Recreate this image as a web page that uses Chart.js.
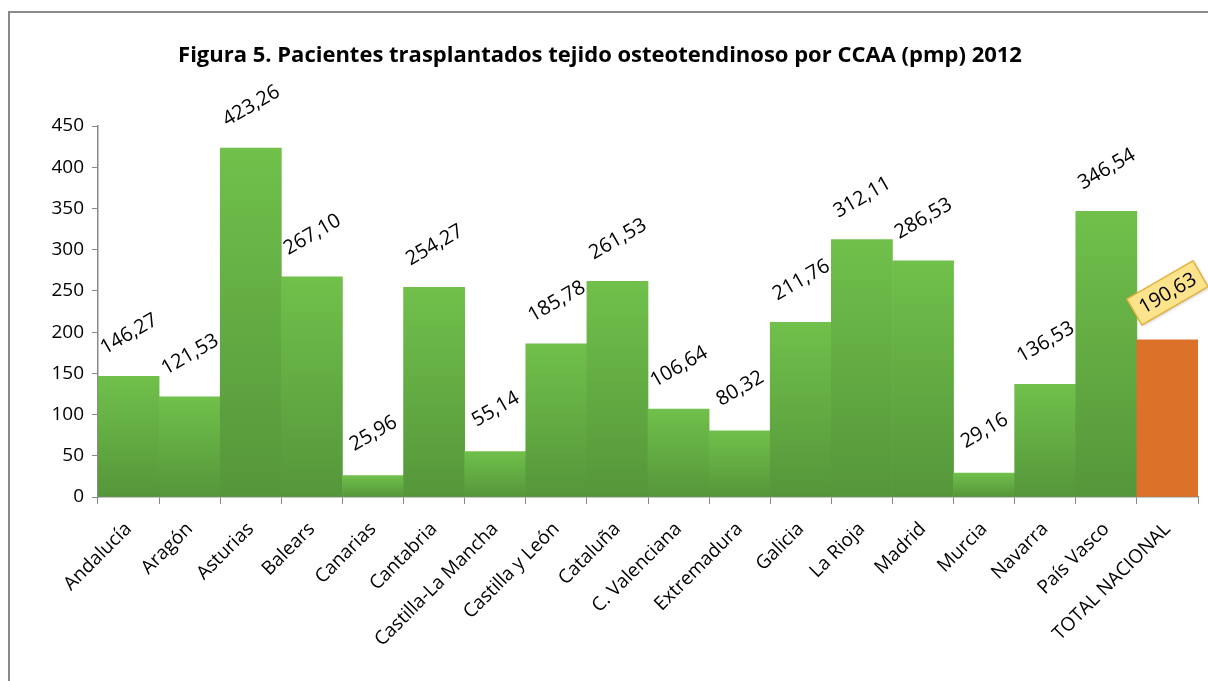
<!DOCTYPE html>
<html lang="es">
<head>
  <meta charset="UTF-8">
  <title>Figura 5</title>
  <script src="https://cdn.jsdelivr.net/npm/chart.js"></script>
  <style>
    body {
      margin: 0;
      padding: 0;
      background-color: #fff;
      overflow: hidden;
    }

    .frame {
      position: absolute;
      left: 8px;
      top: 11px;
      width: 1300px;
      height: 800px;
      border: 2px solid #8a8a8a;
      box-sizing: border-box;
    }

    .wrap {
      position: absolute;
      left: 0;
      top: 0;
      width: 1208px;
      height: 681px;
    }
  </style>
</head>
<body>

  <div class="frame"></div>
  <div class="wrap">
    <canvas id="grafico"></canvas>
  </div>

  <script>
    // Datos
    var categorias = ['Andalucía', 'Aragón', 'Asturias', 'Balears', 'Canarias', 'Cantabria',
      'Castilla-La Mancha', 'Castilla y León', 'Cataluña', 'C. Valenciana', 'Extremadura',
      'Galicia', 'La Rioja', 'Madrid', 'Murcia', 'Navarra', 'País Vasco', 'TOTAL NACIONAL'];
    var valores = [146.27, 121.53, 423.26, 267.10, 25.96, 254.27, 55.14, 185.78, 261.53,
      106.64, 80.32, 211.76, 312.11, 286.53, 29.16, 136.53, 346.54, 190.63];
    var ticksY = [0, 50, 100, 150, 200, 250, 300, 350, 400, 450];
    var titulo = 'Figura 5. Pacientes trasplantados tejido osteotendinoso por CCAA (pmp) 2012';

    var indiceTotal = categorias.length - 1;
    var fuente = '"Open Sans", sans-serif';

    function formatoES(v) {
      return v.toFixed(2).replace('.', ',');
    }

    // Degradado verde por barra (de arriba a abajo), naranja para el total
    function colorBarra(ctx) {
      if (ctx.dataIndex === indiceTotal) return '#dc7229';
      var y = ctx.chart.scales.y;
      if (!y || !ctx.chart.chartArea || ctx.raw === undefined) return '#64ae42';
      var arriba = y.getPixelForValue(ctx.raw);
      var base = y.getPixelForValue(0);
      if (!isFinite(arriba) || !isFinite(base) || arriba === base) return '#64ae42';
      var g = ctx.chart.ctx.createLinearGradient(0, arriba, 0, base);
      g.addColorStop(0, '#70c04b');
      g.addColorStop(1, '#55963a');
      return g;
    }

    // Titulo y etiquetas de datos giradas
    var etiquetas = {
      id: 'etiquetas',
      afterDatasetsDraw: function (chart) {
        var c = chart.ctx;
        var meta = chart.getDatasetMeta(0);
        c.save();
        c.fillStyle = '#000';
        c.font = 'bold 22px ' + fuente;
        c.textAlign = 'center';
        c.textBaseline = 'middle';
        c.fillText(titulo, 600, 56);

        c.font = '20px ' + fuente;
        meta.data.forEach(function (bar, i) {
          var txt = formatoES(valores[i]);
          c.save();
          c.translate(bar.x, bar.y - (i === indiceTotal ? 47 : 43));
          c.rotate(-Math.PI / 6);
          if (i === indiceTotal) {
            var w = c.measureText(txt).width + 14;
            var h = 30;
            c.shadowColor = 'rgba(0,0,0,0.25)';
            c.shadowBlur = 3;
            c.shadowOffsetX = 1;
            c.shadowOffsetY = 1;
            c.fillStyle = '#fde38b';
            c.fillRect(-w / 2, -h / 2, w, h);
            c.shadowColor = 'transparent';
            c.strokeStyle = '#e2b23c';
            c.lineWidth = 1.5;
            c.strokeRect(-w / 2, -h / 2, w, h);
            c.fillStyle = '#000';
          }
          c.fillText(txt, 0, 1);
          c.restore();
        });
        c.restore();
      }
    };

    var ctx = document.getElementById('grafico').getContext('2d');

    var grafico = new Chart(ctx, {
      type: 'bar',
      data: {
        labels: categorias,
        datasets: [{
          data: valores,
          backgroundColor: colorBarra,
          borderWidth: 0,
          barPercentage: 1,
          categoryPercentage: 1
        }]
      },
      options: {
        responsive: true,
        maintainAspectRatio: false,
        animation: false,
        layout: {
          padding: { top: 126, right: 10, left: 30, bottom: 0 }
        },
        plugins: {
          legend: { display: false },
          tooltip: { enabled: false },
          title: { display: false }
        },
        scales: {
          x: {
            grid: {
              offset: true,
              drawOnChartArea: false,
              color: '#8a8a8a',
              tickLength: 7
            },
            border: { color: '#8a8a8a', width: 1.5 },
            ticks: {
              color: '#000',
              font: { family: fuente, size: 19 },
              minRotation: 45,
              maxRotation: 45,
              autoSkip: false,
              padding: 14
            },
            afterFit: function (scale) {
              scale.height = 184;
            }
          },
          y: {
            min: 0,
            max: 450,
            afterBuildTicks: function (scale) {
              scale.ticks = ticksY.map(function (v) { return { value: v }; });
            },
            grid: {
              drawOnChartArea: false,
              color: '#8a8a8a',
              tickLength: 6
            },
            border: { color: '#8a8a8a', width: 1.5 },
            ticks: {
              color: '#000',
              font: { family: fuente, size: 19 },
              padding: 8
            },
            afterFit: function (scale) {
              scale.width = 68;
            }
          }
        }
      },
      plugins: [etiquetas]
    });
  </script>

</body>
</html>
